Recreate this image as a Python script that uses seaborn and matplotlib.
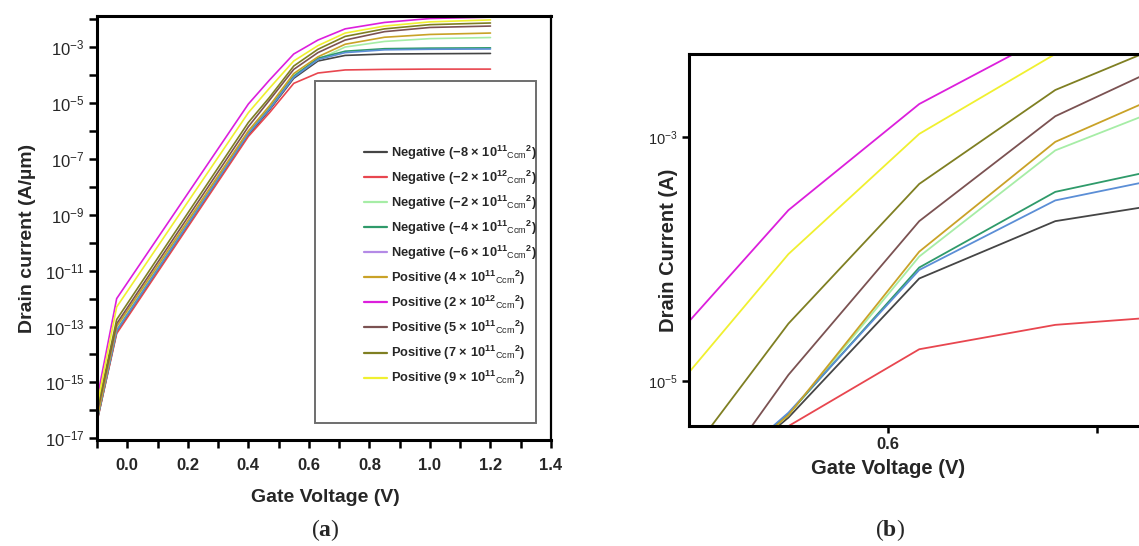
import numpy as np
import pandas as pd
import matplotlib
matplotlib.use("Agg")
import matplotlib.pyplot as plt
import seaborn as sns
from matplotlib.lines import Line2D
from matplotlib.patches import Rectangle
from matplotlib.ticker import FixedLocator, FixedFormatter, NullFormatter, NullLocator

# ---------------- data ----------------
series_names = [
    "Negative (−8 × 10$^{11}{}_{\\mathrm{Ccm}}{}^{2}$)",
    "Negative (−2 × 10$^{12}{}_{\\mathrm{Ccm}}{}^{2}$)",
    "Negative (−2 × 10$^{11}{}_{\\mathrm{Ccm}}{}^{2}$)",
    "Negative (−4 × 10$^{11}{}_{\\mathrm{Ccm}}{}^{2}$)",
    "Negative (−6 × 10$^{11}{}_{\\mathrm{Ccm}}{}^{2}$)",
    "Positive (4 × 10$^{11}{}_{\\mathrm{Ccm}}{}^{2}$)",
    "Positive (2 × 10$^{12}{}_{\\mathrm{Ccm}}{}^{2}$)",
    "Positive (5 × 10$^{11}{}_{\\mathrm{Ccm}}{}^{2}$)",
    "Positive (7 × 10$^{11}{}_{\\mathrm{Ccm}}{}^{2}$)",
    "Positive (9 × 10$^{11}{}_{\\mathrm{Ccm}}{}^{2}$)",
]
line_colors = ["#454545", "#e8464f", "#a6eda6", "#2f9a6a", "#5b8ed6",
               "#c9a227", "#dc1fdc", "#7b5252", "#7f7f22", "#f0f030"]
legend_colors = ["#454545", "#e8464f", "#a6eda6", "#2f9a6a", "#b48ae6",
                 "#c9a227", "#dc1fdc", "#7b5252", "#7f7f22", "#f0f030"]

# Panel (a): gate voltage (V) and log10 of drain current (A/um)
a_gate_voltage = [-0.1, -0.035, 0.40, 0.47, 0.55, 0.63, 0.72, 0.85, 1.0, 1.2]
a_neg_8e11 = [-16.4, -13.2, -6.15, -5.25, -4.12, -3.50, -3.30, -3.25, -3.24, -3.23]
a_neg_2e12 = [-16.4, -13.25, -6.20, -5.35, -4.30, -3.93, -3.82, -3.80, -3.79, -3.79]
a_neg_2e11 = [-16.3, -13.1, -6.05, -5.15, -4.00, -3.45, -3.00, -2.80, -2.70, -2.66]
a_neg_4e11 = [-16.35, -13.15, -6.10, -5.20, -4.05, -3.40, -3.15, -3.06, -3.04, -3.03]
a_neg_6e11 = [-16.35, -13.15, -6.10, -5.22, -4.08, -3.45, -3.20, -3.10, -3.08, -3.07]
a_pos_4e11 = [-16.3, -13.0, -6.00, -5.10, -3.95, -3.35, -2.90, -2.65, -2.55, -2.50]
a_pos_2e12 = [-15.6, -12.0, -5.04, -4.18, -3.25, -2.75, -2.35, -2.12, -1.98, -1.93]
a_pos_5e11 = [-16.1, -12.9, -5.85, -4.90, -3.80, -3.20, -2.75, -2.45, -2.30, -2.25]
a_pos_7e11 = [-16.0, -12.75, -5.70, -4.80, -3.68, -3.08, -2.62, -2.35, -2.20, -2.14]
a_pos_9e11 = [-15.85, -12.3, -5.35, -4.47, -3.50, -2.95, -2.50, -2.25, -2.10, -2.03]

# Panel (b): gate voltage (V) and log10 of drain current (A)
b_gate_voltage = [0.38, 0.505, 0.63, 0.76, 0.885]
b_neg_8e11 = [-6.20, -5.30, -4.16, -3.69, -3.52]
b_neg_2e12 = [-6.30, -5.37, -4.74, -4.54, -4.46]
b_neg_2e11 = [-6.20, -5.28, -3.98, -3.11, -2.69]
b_neg_4e11 = [-6.20, -5.27, -4.07, -3.45, -3.22]
b_neg_6e11 = [-6.20, -5.26, -4.09, -3.52, -3.30]
b_pos_4e11 = [-6.20, -5.28, -3.94, -3.04, -2.57]
b_pos_2e12 = [-4.80, -3.60, -2.73, -2.14, -1.76]
b_pos_5e11 = [-6.45, -4.95, -3.69, -2.83, -2.33]
b_pos_7e11 = [-5.955, -4.53, -3.385, -2.615, -2.17]
b_pos_9e11 = [-5.235, -3.96, -2.975, -2.32, -1.88]

a_series = [a_neg_8e11, a_neg_2e12, a_neg_2e11, a_neg_4e11, a_neg_6e11,
            a_pos_4e11, a_pos_2e12, a_pos_5e11, a_pos_7e11, a_pos_9e11]
b_series = [b_neg_8e11, b_neg_2e12, b_neg_2e11, b_neg_4e11, b_neg_6e11,
            b_pos_4e11, b_pos_2e12, b_pos_5e11, b_pos_7e11, b_pos_9e11]


def long_table(volts, series_list):
    rows = []
    for name, vals in zip(series_names, series_list):
        for v, lg in zip(volts, vals):
            rows.append({"V": v, "I": 10.0 ** lg, "series": name})
    return pd.DataFrame(rows)


df_a = long_table(a_gate_voltage, a_series)
df_b = long_table(b_gate_voltage, b_series)
palette = dict(zip(series_names, line_colors))

# ---------------- style ----------------
sns.set_style("ticks")
plt.rcParams["font.family"] = ["Liberation Sans", "DejaVu Sans"]
plt.rcParams["mathtext.fontset"] = "custom"
plt.rcParams["mathtext.rm"] = "Liberation Sans"
plt.rcParams["mathtext.it"] = "Liberation Sans:italic"
plt.rcParams["mathtext.bf"] = "Liberation Serif:bold"
plt.rcParams["mathtext.default"] = "regular"
plt.rcParams["axes.unicode_minus"] = True

W, H = 1139, 546
fig = plt.figure(figsize=(W / 100, H / 100), dpi=100)
fig.patch.set_facecolor("white")


def fx(px):
    return px / W


def fy(py):
    return 1 - py / H


# ---------------- panel (a) ----------------
ax = fig.add_axes([fx(97), fy(440), fx(551) - fx(97), fy(16) - fy(440)])
sns.lineplot(data=df_a, x="V", y="I", hue="series", palette=palette,
             hue_order=series_names, estimator=None, sort=False,
             linewidth=1.2, legend=False, ax=ax)
ax.set_yscale("log")
ax.set_xlim(-0.1, 1.4)
ax.set_ylim(10 ** -17.06, 10 ** -1.89)
ax.set_xlabel("")
ax.set_ylabel("")

maj_exp = [-3, -5, -7, -9, -11, -13, -15, -17]
min_exp = [-2, -4, -6, -8, -10, -12, -14, -16]
ax.yaxis.set_major_locator(FixedLocator([10.0 ** e for e in maj_exp]))
ax.yaxis.set_major_formatter(FixedFormatter(["$10^{%d}$" % e for e in maj_exp]))
ax.yaxis.set_minor_locator(FixedLocator([10.0 ** e for e in min_exp]))
ax.yaxis.set_minor_formatter(NullFormatter())

x_major = [0.0, 0.2, 0.4, 0.6, 0.8, 1.0, 1.2, 1.4]
x_minor = [-0.1, 0.1, 0.3, 0.5, 0.7, 0.9, 1.1, 1.3]
ax.xaxis.set_major_locator(FixedLocator(x_major))
ax.xaxis.set_major_formatter(FixedFormatter(["%.1f" % v for v in x_major]))
ax.xaxis.set_minor_locator(FixedLocator(x_minor))

ax.tick_params(axis="both", which="both", direction="out", length=6, width=1.8,
               color="black")
ax.tick_params(axis="x", labelsize=12, pad=7)
ax.tick_params(axis="y", labelsize=12, pad=3)
for lab in ax.get_xticklabels():
    lab.set_fontweight("bold")
for side in ["left", "bottom", "top"]:
    ax.spines[side].set_linewidth(2.2)
    ax.spines[side].set_color("black")
ax.spines["right"].set_linewidth(1.6)
ax.spines["right"].set_color("black")
ax.spines["right"].set_visible(True)
ax.spines["top"].set_visible(True)

# legend frame (large box) and entries
box = Rectangle((fx(315), fy(423)), fx(536) - fx(315), fy(81) - fy(423),
                transform=fig.transFigure, fill=True, facecolor="white",
                edgecolor="#6e6e6e", linewidth=1.4, zorder=5)
fig.patches.append(box)
handles = [Line2D([0], [0], color=c, lw=1.6) for c in legend_colors]
leg = fig.legend(handles, series_names, loc="upper left",
                 bbox_to_anchor=(fx(358), fy(137)), bbox_transform=fig.transFigure,
                 frameon=False, borderpad=0, handlelength=1.75, handletextpad=0.3,
                 labelspacing=0.53, prop={"family": "Liberation Sans",
                                          "weight": "bold", "size": 9.3})
leg.set_zorder(6)

fig.text(fx(28), fy(238), "Drain current (A/\u00b5m)", rotation=90, ha="center",
         va="center", fontsize=14, fontweight="bold")
fig.text(fx(325), fy(498), "Gate Voltage (V)", ha="center", va="center",
         fontsize=14, fontweight="bold")

# ---------------- panel (b) ----------------
bx = fig.add_axes([fx(689), fy(426), fx(1139) - fx(689), fy(54) - fy(426)])
sns.lineplot(data=df_b, x="V", y="I", hue="series", palette=palette,
             hue_order=series_names, estimator=None, sort=False,
             linewidth=1.3, legend=False, ax=bx)
bx.set_yscale("log")
bx.set_xlim(0.41, 0.84)
bx.set_ylim(10 ** -5.369, 10 ** -2.32)
bx.set_xlabel("")
bx.set_ylabel("")
bx.yaxis.set_major_locator(FixedLocator([1e-3, 1e-5]))
bx.yaxis.set_major_formatter(FixedFormatter(["$10^{-3}$", "$10^{-5}$"]))
bx.yaxis.set_minor_locator(NullLocator())
bx.xaxis.set_major_locator(FixedLocator([0.6, 0.8]))
bx.xaxis.set_major_formatter(FixedFormatter(["0.6", ""]))
bx.xaxis.set_minor_locator(NullLocator())
bx.tick_params(axis="both", which="both", direction="out", length=5, width=1.8,
               color="black")
bx.tick_params(axis="x", labelsize=12, pad=3)
bx.tick_params(axis="y", labelsize=10.5, pad=3)
for lab in bx.get_xticklabels():
    lab.set_fontweight("bold")
for side in ["left", "bottom", "top"]:
    bx.spines[side].set_linewidth(2.2)
    bx.spines[side].set_color("black")
bx.spines["right"].set_visible(False)

fig.text(fx(668), fy(250), "Drain Current (A)", rotation=90, ha="center",
         va="center", fontsize=14.5, fontweight="bold")
fig.text(fx(888), fy(468), "Gate Voltage (V)", ha="center", va="center",
         fontsize=14.5, fontweight="bold")

# panel tags
fig.text(fx(325), fy(530), r"($\mathbf{a}$)", ha="center", va="center",
         fontsize=17, family="Liberation Serif")
fig.text(fx(890), fy(530), r"($\mathbf{b}$)", ha="center", va="center",
         fontsize=17, family="Liberation Serif")

fig.savefig("out.png", dpi=100, facecolor="white")
